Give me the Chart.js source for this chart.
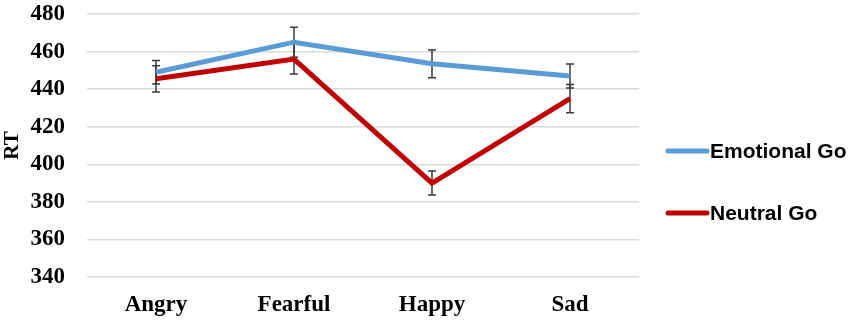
<!DOCTYPE html>
<html>
<head>
<meta charset="utf-8">
<script src="https://cdn.jsdelivr.net/npm/chart.js@4"></script>
<style>
  html, body { margin: 0; padding: 0; background: #fff; }
  #wrap { width: 850px; height: 323px; position: relative; }
</style>
</head>
<body>
<div id="wrap"><canvas id="chart"></canvas></div>
<script>
// values
const categories = ['Angry', 'Fearful', 'Happy', 'Sad'];
const emotionalGo = [449, 465, 453.5, 447];
const neutralGo = [445.5, 456, 390, 435];
const emotionalErr = [6.3, 8, 7.4, 6.4];
const neutralErr = [7, 8, 6.4, 7.5];
const yTicks = [340, 360, 380, 400, 420, 440, 460, 480];

const serifBold = { family: '"Liberation Serif", "Times New Roman", serif', size: 23, weight: 'bold' };

// error bars, drawn under the lines
const errorBars = {
    id: 'errorBars',
    beforeDatasetsDraw(chart) {
        const ctx = chart.ctx;
        const y = chart.scales.y;
        ctx.save();
        ctx.strokeStyle = '#3a3a3a';
        ctx.lineWidth = 1.5;
        chart.data.datasets.forEach((ds, i) => {
            const meta = chart.getDatasetMeta(i);
            meta.data.forEach((pt, j) => {
                const v = ds.data[j];
                const e = ds.errors[j];
                const top = y.getPixelForValue(v + e);
                const bot = y.getPixelForValue(v - e);
                ctx.beginPath();
                ctx.moveTo(pt.x, top); ctx.lineTo(pt.x, bot);
                ctx.moveTo(pt.x - 4, top); ctx.lineTo(pt.x + 4, top);
                ctx.moveTo(pt.x - 4, bot); ctx.lineTo(pt.x + 4, bot);
                ctx.stroke();
            });
        });
        ctx.restore();
    }
};

// legend at the right, line sample + label
const sideLegend = {
    id: 'sideLegend',
    afterDraw(chart) {
        const ctx = chart.ctx;
        const rows = [151, 213];
        ctx.save();
        ctx.font = 'bold 21px "Liberation Sans", Arial, sans-serif';
        ctx.textBaseline = 'middle';
        chart.data.datasets.forEach((ds, i) => {
            const yy = rows[i];
            ctx.strokeStyle = ds.borderColor;
            ctx.lineWidth = 5;
            ctx.lineCap = 'round';
            ctx.beginPath();
            ctx.moveTo(668, yy); ctx.lineTo(707, yy);
            ctx.stroke();
            ctx.fillStyle = '#000';
            ctx.fillText(ds.label, 710, yy + 1);
        });
        ctx.restore();
    }
};

new Chart(document.getElementById('chart'), {
    type: 'line',
    data: {
        labels: categories,
        datasets: [{
            label: 'Emotional Go',
            data: emotionalGo,
            errors: emotionalErr,
            borderColor: '#5b9bd5',
            borderWidth: 5,
            pointRadius: 0,
            tension: 0
        }, {
            label: 'Neutral Go',
            data: neutralGo,
            errors: neutralErr,
            borderColor: '#c00000',
            borderWidth: 5,
            pointRadius: 0,
            tension: 0
        }]
    },
    options: {
        responsive: true,
        maintainAspectRatio: false,
        animation: false,
        layout: { padding: { top: 14, right: 211, left: 0, bottom: 0 } },
        plugins: {
            legend: { display: false },
            tooltip: { enabled: false }
        },
        scales: {
            x: {
                offset: true,
                grid: { display: false, drawTicks: false },
                border: { display: false },
                ticks: { color: '#000', font: serifBold, padding: 14 },
                afterFit(scale) { scale.height = 46; }
            },
            y: {
                min: 340,
                max: 480,
                afterBuildTicks(scale) { scale.ticks = yTicks.map(v => ({ value: v })); },
                grid: { color: '#d9d9d9', lineWidth: 1.5, drawTicks: false },
                border: { display: false },
                ticks: { color: '#000', font: serifBold, padding: 22 },
                title: { display: true, text: 'RT', color: '#000', font: { family: serifBold.family, size: 21, weight: 'bold' }, padding: { top: 0, bottom: 0 } },
                afterFit(scale) {
                    scale.width = 87;
                    scale.paddingTop = 0;
                    scale.paddingBottom = 0;
                }
            }
        }
    },
    plugins: [errorBars, sideLegend]
});
</script>
</body>
</html>
